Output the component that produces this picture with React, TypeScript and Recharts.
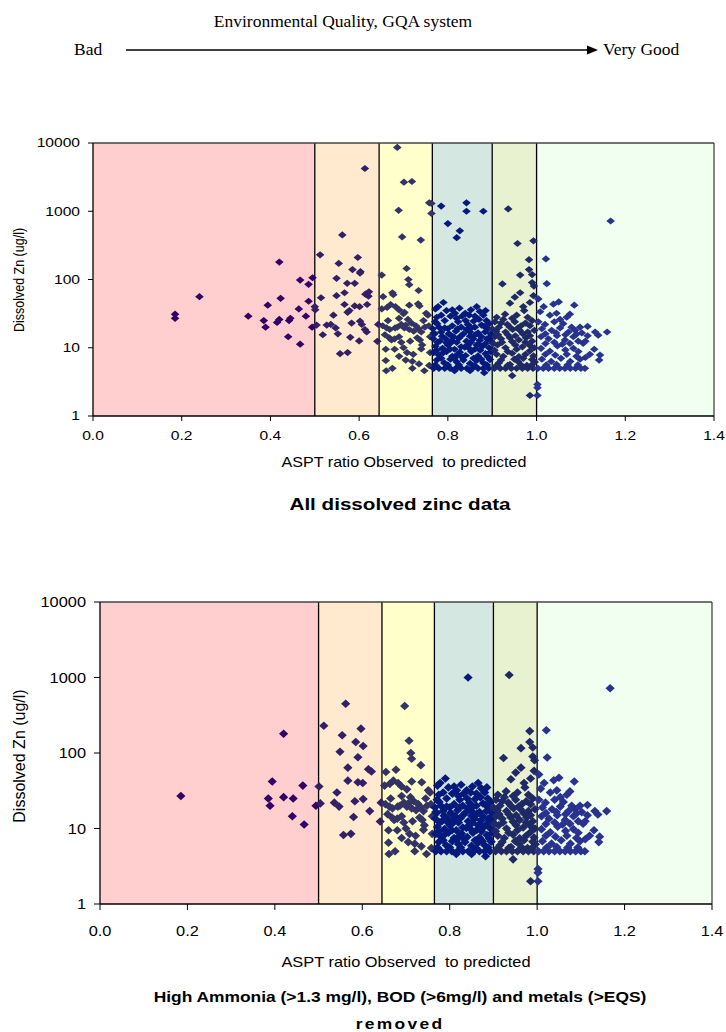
import React from 'react';
import { ScatterChart, Scatter, XAxis, YAxis, ReferenceArea, ReferenceLine } from 'recharts';

type Pt = [number, number];

// ---------- axes / bands ----------
const xTicks = [0, 0.2, 0.4, 0.6, 0.8, 1.0, 1.2, 1.4];
const yTicks = [1, 10, 100, 1000, 10000];
const bandEdges = [0, 0.5, 0.645, 0.765, 0.9, 1.0, 1.4];
const bandFills = ['#FFCECE', '#FFE9CF', '#FFFFCC', '#D4E8E1', '#E8F2D0', '#F1FFF1'];
const bandMarkerColors = ['#330066', '#331F66', '#333366', '#061A7E', '#1F2966', '#29338F'];

// ---------- data: points present in both charts ----------
const poorKept: Pt[] = [
  [0.185, 27], [0.385, 25], [0.389, 20], [0.394, 42], [0.42, 180], [0.42, 26], [0.442, 25],
  [0.44, 14.5], [0.467, 11.3], [0.464, 37], [0.494, 20],
];
const fairKept: Pt[] = [
  [0.501, 36], [0.504, 21.5], [0.512, 230], [0.562, 450], [0.554, 172], [0.585, 140], [0.549, 104],
  [0.59, 88], [0.567, 64], [0.567, 43], [0.59, 41], [0.542, 30], [0.536, 22], [0.547, 19.5],
  [0.583, 23], [0.58, 14.2], [0.557, 8.2], [0.574, 8.5], [0.597, 210], [0.602, 124], [0.614, 61],
  [0.621, 57], [0.601, 40], [0.602, 24.5], [0.617, 17], [0.641, 12.4], [0.643, 22],
];
const moderateKept: Pt[] = [
  [0.697, 420], [0.707, 145], [0.711, 100], [0.713, 84], [0.734, 69], [0.654, 56], [0.677, 60],
  [0.671, 43], [0.682, 40], [0.69, 36], [0.702, 33], [0.651, 37], [0.663, 39], [0.713, 42],
  [0.736, 41], [0.755, 30], [0.751, 32], [0.745, 25], [0.662, 19.5], [0.669, 18.5], [0.681, 19.5],
  [0.686, 20], [0.702, 19.5], [0.713, 18.5], [0.723, 17.5], [0.734, 19], [0.748, 20], [0.757, 21],
  [0.695, 22], [0.705, 21.5], [0.718, 23], [0.728, 21], [0.653, 21], [0.658, 15.5], [0.668, 14],
  [0.673, 13], [0.68, 13.5], [0.69, 14.5], [0.731, 14], [0.737, 13], [0.742, 11], [0.66, 9.5],
  [0.68, 9.5], [0.7, 10], [0.708, 8.5], [0.722, 8], [0.74, 9.6], [0.66, 6.5], [0.72, 6.3],
  [0.735, 5.8], [0.661, 4.6], [0.747, 4.6],
  [0.665, 25], [0.69, 27], [0.71, 26], [0.74, 17], [0.76, 14.5], [0.695, 12], [0.715, 12.5],
  [0.76, 8.5], [0.69, 7.5], [0.705, 6.6], [0.675, 5], [0.72, 5], [0.758, 5.5],
];
const goodKept: Pt[] = [
  [0.842, 1000],
  [0.79, 46], [0.778, 40], [0.772, 37], [0.797, 35], [0.785, 30], [0.826, 38], [0.852, 36],
  [0.865, 40], [0.839, 32], [0.861, 29], [0.872, 34], [0.88, 30], [0.816, 32], [0.806, 29],
  [0.82, 27], [0.887, 25], [0.823, 24], [0.84, 25], [0.793, 25], [0.771, 24], [0.858, 24.5],
  [0.776, 22.5], [0.845, 22], [0.893, 22.5], [0.876, 21.5], [0.861, 20], [0.83, 20], [0.81, 21],
  [0.78, 20], [0.8, 19], [0.842, 18.5], [0.766, 19], [0.89, 19],
  [0.768, 16.5], [0.785, 17], [0.802, 16], [0.818, 17.5], [0.835, 16], [0.85, 17], [0.868, 16.5],
  [0.884, 17], [0.897, 16], [0.787, 14.8], [0.813, 14.5], [0.85, 14.8], [0.875, 14.6],
  [0.767, 13.5], [0.782, 12.5], [0.795, 13.5], [0.809, 12.8], [0.825, 13.8], [0.842, 12.5],
  [0.857, 13.5], [0.872, 12.8], [0.888, 13.5], [0.898, 12.5], [0.797, 11.8], [0.87, 11.2],
  [0.772, 10.5], [0.788, 9.8], [0.8, 11], [0.815, 9.5], [0.83, 10.3], [0.838, 10.2], [0.845, 11],
  [0.862, 9.6], [0.878, 10.5], [0.893, 10],
  [0.768, 8.5], [0.78, 7.8], [0.797, 8.8], [0.81, 7.5], [0.827, 8.6], [0.84, 7.7], [0.853, 8.8],
  [0.868, 7.6], [0.885, 8.2],
  [0.775, 6.6], [0.792, 6], [0.806, 6.8], [0.82, 6.2], [0.835, 6.6], [0.85, 5.9], [0.865, 6.5],
  [0.88, 6], [0.895, 6.7],
  [0.768, 5], [0.78, 5], [0.793, 5], [0.805, 5], [0.818, 5], [0.83, 5], [0.843, 5], [0.855, 5],
  [0.868, 5], [0.88, 5], [0.892, 5], [0.882, 4.3],
  [0.775, 28], [0.81, 36], [0.832, 29], [0.848, 30], [0.87, 26], [0.885, 35], [0.77, 16],
  [0.793, 19.5], [0.822, 19], [0.853, 19.5], [0.882, 20.5], [0.805, 15.5], [0.83, 15],
  [0.862, 15.5], [0.893, 14], [0.777, 12], [0.805, 11.5], [0.82, 12], [0.852, 12], [0.865, 11],
  [0.885, 11.5], [0.775, 9.2], [0.79, 8.5], [0.805, 9.5], [0.822, 8], [0.848, 9.8], [0.873, 9.2],
  [0.897, 8.8], [0.785, 7], [0.815, 7], [0.832, 7.3], [0.858, 7], [0.875, 6.8], [0.89, 7.4],
  [0.772, 5.6], [0.8, 5.6], [0.825, 5.6], [0.86, 5.5], [0.888, 5.6], [0.815, 4.6], [0.85, 4.6],
];
const veryGoodKept: Pt[] = [
  [0.936, 1080], [0.983, 195], [0.963, 116], [0.983, 140], [0.99, 118], [0.923, 86], [0.99, 90],
  [0.994, 80], [0.951, 55], [0.963, 64], [0.993, 58], [0.94, 45], [0.985, 46], [0.97, 40],
  [0.972, 35], [0.929, 31], [0.955, 30], [0.91, 28],
  [0.906, 24], [0.92, 23], [0.934, 22], [0.951, 24], [0.965, 21], [0.975, 23], [0.99, 25],
  [0.909, 17.5], [0.93, 17], [0.946, 18.5], [0.969, 16], [0.98, 17], [0.995, 18], [0.958, 19.5],
  [0.906, 14.5], [0.92, 13.5], [0.94, 14], [0.96, 13], [0.976, 14], [0.99, 12.5],
  [0.912, 11], [0.93, 10], [0.952, 11], [0.968, 10.3], [0.985, 10.8],
  [0.91, 8], [0.925, 7.5], [0.945, 8.3], [0.96, 7.4], [0.975, 8], [0.993, 7.6],
  [0.915, 6], [0.94, 5.7], [0.958, 6.3], [0.978, 5.5], [0.996, 6.2],
  [0.905, 5], [0.918, 5], [0.93, 5], [0.943, 5], [0.955, 5], [0.968, 5], [0.98, 5], [0.992, 5],
  [0.945, 3.9], [0.985, 2],
  [0.915, 20], [0.94, 20], [0.962, 18], [0.985, 21], [0.9, 19], [0.913, 15.5], [0.935, 15.5],
  [0.952, 15], [0.985, 15], [0.902, 11.5], [0.922, 12], [0.945, 12.3], [0.975, 12], [0.995, 10],
  [0.905, 9.2], [0.935, 8.8], [0.955, 9.5], [0.985, 9], [0.92, 6.6], [0.95, 6.8], [0.97, 7],
  [0.99, 6.7], [0.91, 5.5], [0.935, 5.5], [0.965, 5.6], [0.988, 5.5], [0.925, 26], [0.945, 27],
  [0.98, 28],
];
const excellentKept: Pt[] = [
  [1.167, 720], [1.021, 200], [1.023, 87], [1.004, 52], [1.038, 43.5], [1.05, 47], [1.085, 42],
  [1.016, 40], [1.008, 33.7], [1.068, 28], [1.053, 26],
  [1.004, 24], [1.019, 22], [1.04, 24], [1.06, 22.5], [1.098, 20], [1.079, 20], [1.159, 17],
  [1.132, 17], [1.139, 15.3],
  [1.012, 19], [1.034, 18], [1.053, 19.5], [1.072, 17], [1.087, 18], [1.102, 16.5],
  [1.01, 14.5], [1.027, 13.5], [1.046, 15], [1.064, 13], [1.083, 14.5], [1.094, 12.5], [1.105, 11.6],
  [1.01, 9.8], [1.03, 8.9], [1.047, 10.6], [1.065, 9.3], [1.083, 9.8], [1.094, 8.8], [1.12, 8],
  [1.143, 7.8],
  [1.012, 6.8], [1.033, 6.3], [1.055, 7], [1.076, 6.3], [1.098, 6.8], [1.141, 6.6],
  [1.003, 5], [1.015, 5], [1.027, 5], [1.04, 5], [1.052, 5], [1.064, 5], [1.076, 5], [1.088, 5],
  [1.1, 5], [1.109, 5],
  [1.002, 2.9], [1.002, 2.6], [1.002, 2],
  [1.02, 16], [1.044, 16.5], [1.065, 15.5], [1.09, 15.8], [1.115, 15], [1.02, 11.5], [1.04, 12],
  [1.058, 11.3], [1.075, 11.6], [1.11, 12.5], [1.02, 8], [1.042, 7.8], [1.068, 8], [1.09, 7.5],
  [1.11, 7.2], [1.022, 5.6], [1.045, 5.7], [1.07, 5.6], [1.093, 5.6], [1.03, 30], [1.045, 32],
  [1.075, 31], [1.13, 9.5], [1.115, 20.5],
];

// ---------- data: points only in "All dissolved zinc data" (removed in second chart) ----------
const poorRemoved: Pt[] = [
  [0.185, 31], [0.24, 56], [0.35, 29], [0.423, 53], [0.415, 23.5], [0.445, 27], [0.467, 98],
  [0.486, 85], [0.495, 106], [0.486, 48], [0.48, 29],
];
const fairRemoved: Pt[] = [
  [0.5, 40], [0.518, 15.5], [0.552, 16], [0.514, 54], [0.549, 58], [0.603, 130], [0.527, 21.5],
  [0.613, 4230], [0.618, 43], [0.573, 88], [0.6, 12.6], [0.606, 22], [0.613, 18.5], [0.622, 66],
  [0.574, 33], [0.578, 35],
];
const moderateRemoved: Pt[] = [
  [0.686, 8600], [0.701, 2670], [0.719, 2730], [0.689, 1030], [0.739, 378], [0.651, 116],
  [0.675, 64], [0.733, 44], [0.7, 31.5], [0.758, 1330],
];
const goodRemoved: Pt[] = [
  [0.763, 1300], [0.785, 1190], [0.763, 930], [0.842, 1330], [0.88, 1000], [0.8, 660],
  [0.827, 516], [0.82, 410],
];
const veryGoodRemoved: Pt[] = [[0.957, 337], [0.993, 369]];

const toRows = (pts: Pt[]) => pts.map(([x, y]) => ({ x, y }));
const keptRows = toRows([
  ...poorKept, ...fairKept, ...moderateKept, ...goodKept, ...veryGoodKept, ...excellentKept,
]);
const allRows = [
  ...keptRows,
  ...toRows([...poorRemoved, ...fairRemoved, ...moderateRemoved, ...goodRemoved, ...veryGoodRemoved]),
];

const SANS = '"Liberation Sans", Arial, Helvetica, sans-serif';
const SERIF = '"Liberation Serif", "Times New Roman", serif';

const colorFor = (x: number) => {
  for (let i = 0; i < bandEdges.length - 1; i++) {
    if (x < bandEdges[i + 1]) return bandMarkerColors[i];
  }
  return bandMarkerColors[bandMarkerColors.length - 1];
};

const makeDiamond = (hw: number, hh: number) => (props: any) => {
  const { cx, cy, payload } = props;
  if (cx == null || cy == null) return <g />;
  return (
    <polygon
      points={`${cx},${cy - hh} ${cx + hw},${cy} ${cx},${cy + hh} ${cx - hw},${cy}`}
      fill={colorFor(payload.x)}
    />
  );
};

type Cfg = {
  top: number;
  height: number;
  plotTop: number;
  plotBottom: number;
  plotLeft: number;
  plotRight: number;
  tickFont: number;
  tickSx: number;
  xTickBaseline: number;
  yTickRight: number;
  tickSize: number;
  hw: number;
  hh: number;
};

function ZincChart({ cfg, rows }: { cfg: Cfg; rows: { x: number; y: number }[] }) {
  const xAxisH = 30;
  const marginBottom = cfg.height - (cfg.plotBottom - cfg.top) - xAxisH;
  const XTick = (p: any) => (
    <text
      transform={`translate(${p.x},${cfg.xTickBaseline - cfg.top}) scale(${cfg.tickSx},1)`}
      textAnchor="middle"
      fontSize={cfg.tickFont}
      fontFamily={SANS}
      fill="#000"
    >
      {Number(p.payload.value).toFixed(1)}
    </text>
  );
  const YTick = (p: any) => (
    <text
      transform={`translate(${cfg.yTickRight},${p.y + cfg.tickFont * 0.36}) scale(${cfg.tickSx},1)`}
      textAnchor="end"
      fontSize={cfg.tickFont}
      fontFamily={SANS}
      fill="#000"
    >
      {String(p.payload.value)}
    </text>
  );
  return (
    <div style={{ position: 'absolute', left: 0, top: cfg.top }}>
      <ScatterChart
        width={726}
        height={cfg.height}
        margin={{ top: cfg.plotTop - cfg.top, right: 726 - cfg.plotRight, bottom: marginBottom, left: 0 }}
      >
        <XAxis
          type="number"
          dataKey="x"
          domain={[0, 1.4]}
          ticks={xTicks}
          interval={0}
          height={xAxisH}
          allowDataOverflow
          axisLine={{ stroke: '#000', strokeWidth: 1.3 }}
          tickLine={{ stroke: '#000' }}
          tickSize={cfg.tickSize}
          tick={XTick}
        />
        <YAxis
          type="number"
          dataKey="y"
          scale="log"
          domain={[1, 10000]}
          ticks={yTicks}
          interval={0}
          width={cfg.plotLeft}
          allowDataOverflow
          axisLine={{ stroke: '#000', strokeWidth: 1.3 }}
          tickLine={{ stroke: '#000' }}
          tickSize={cfg.tickSize}
          tick={YTick}
        />
        {bandFills.map((f, i) => (
          <ReferenceArea
            key={'band' + i}
            x1={bandEdges[i]}
            x2={bandEdges[i + 1]}
            fill={f}
            fillOpacity={1}
            stroke="none"
          />
        ))}
        {bandEdges.slice(1, -1).map((b) => (
          <ReferenceLine key={'edge' + b} x={b} stroke="#000" strokeWidth={1.3} />
        ))}
        <ReferenceLine x={1.4} stroke="#444" strokeWidth={1.3} />
        <ReferenceLine y={10000} stroke="#444" strokeWidth={1.3} />
        <Scatter data={rows} isAnimationActive={false} shape={makeDiamond(cfg.hw, cfg.hh)} />
      </ScatterChart>
    </div>
  );
}

const chart1: Cfg = {
  top: 0, height: 520, plotTop: 143, plotBottom: 416, plotLeft: 93, plotRight: 714,
  tickFont: 12, tickSx: 1.3, xTickBaseline: 439.5, yTickRight: 80, tickSize: 5, hw: 4.3, hh: 3.6,
};
const chart2: Cfg = {
  top: 520, height: 512, plotTop: 602, plotBottom: 904, plotLeft: 100, plotRight: 712,
  tickFont: 14, tickSx: 1.17, xTickBaseline: 936, yTickRight: 86, tickSize: 6, hw: 4.6, hh: 4.3,
};

const preStyle: React.CSSProperties = { whiteSpace: 'pre' };

export default function App() {
  return (
    <div style={{ position: 'absolute', left: 0, top: 0, width: 726, height: 1032, background: '#fff' }}>
      <ZincChart cfg={chart1} rows={allRows} />
      <ZincChart cfg={chart2} rows={keptRows} />
      <svg
        width={726}
        height={1032}
        style={{ position: 'absolute', left: 0, top: 0, pointerEvents: 'none' }}
      >
        {/* header */}
        <text x={343} y={27} textAnchor="middle" fontFamily={SERIF} fontSize={17.5} fill="#000">
          Environmental Quality, GQA system
        </text>
        <text x={74} y={55} fontFamily={SERIF} fontSize={17.5} fill="#000">Bad</text>
        <line x1={126} y1={50} x2={589} y2={50} stroke="#000" strokeWidth={1.4} />
        <polygon points="587,45.5 598,50 587,54.5" fill="#000" />
        <text x={603} y={55} fontFamily={SERIF} fontSize={17.5} fill="#000">Very Good</text>

        {/* chart 1 titles */}
        <text
          transform="translate(19.5,280) scale(1.2,1) rotate(-90)"
          textAnchor="middle"
          dominantBaseline="central"
          fontFamily={SANS}
          fontSize={12.5}
          fill="#000"
        >
          Dissolved Zn (ug/l)
        </text>
        <text
          transform="translate(404,466.5) scale(1.15,1)"
          textAnchor="middle"
          fontFamily={SANS}
          fontSize={14}
          fill="#000"
          style={preStyle}
        >
          {'ASPT ratio Observed  to predicted'}
        </text>
        <text
          transform="translate(400,509.5) scale(1.25,1)"
          textAnchor="middle"
          fontFamily={SANS}
          fontWeight="bold"
          fontSize={16.5}
          fill="#000"
        >
          All dissolved zinc data
        </text>

        {/* chart 2 titles */}
        <text
          transform="translate(19.5,756) rotate(-90)"
          textAnchor="middle"
          dominantBaseline="central"
          fontFamily={SANS}
          fontSize={16}
          fill="#000"
        >
          Dissolved Zn (ug/l)
        </text>
        <text
          transform="translate(406,966.5) scale(1.13,1)"
          textAnchor="middle"
          fontFamily={SANS}
          fontSize={14.5}
          fill="#000"
          style={preStyle}
        >
          {'ASPT ratio Observed  to predicted'}
        </text>
        <text
          transform="translate(400,1002) scale(1.16,1)"
          textAnchor="middle"
          fontFamily={SANS}
          fontWeight="bold"
          fontSize={15}
          fill="#000"
        >
          High Ammonia (&gt;1.3 mg/l), BOD (&gt;6mg/l) and metals (&gt;EQS)
        </text>
        <text
          transform="translate(400,1029) scale(1.16,1)"
          textAnchor="middle"
          fontFamily={SANS}
          fontWeight="bold"
          fontSize={15}
          letterSpacing={2}
          fill="#000"
        >
          removed
        </text>
      </svg>
    </div>
  );
}
